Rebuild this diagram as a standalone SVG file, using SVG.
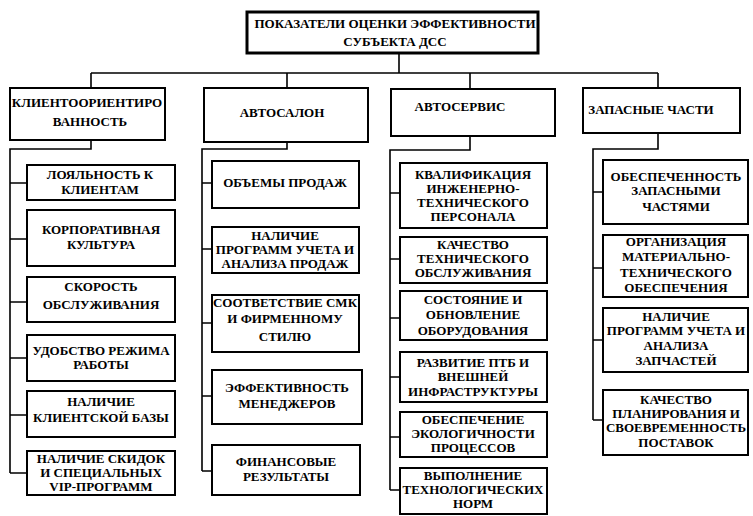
<svg xmlns="http://www.w3.org/2000/svg" width="753" height="516" viewBox="0 0 753 516">
<style>
.bg{fill:#fff}
.box{fill:#fff;stroke:#000;stroke-width:2}
.title{fill:#fff;stroke:#000;stroke-width:3}
.c{fill:none;stroke:#000;stroke-width:1.6}
text{font-weight:bold;font-size:13px;fill:#000;text-anchor:middle}
</style>
<rect class="bg" x="0" y="0" width="753" height="516"/>
<g id="connectors">
<path class="c" d="M399,53V73M91,73H658M91,73V88M287,73V88M470,73V89M658,73V88"/>
<path class="c" d="M91,140V149H10V473M10,183H27M10,239H27M10,302H27M10,358H27M10,415H27M10,473H27"/>
<path class="c" d="M287,142V149H202V471M202,183H212M202,249H212M202,323H212M202,396H212M202,471H212"/>
<path class="c" d="M470,136V150H390V490M390,193H400M390,259H400M390,318H400M390,377H400M390,437H400M390,490H400"/>
<path class="c" d="M658,133V149H593V420M593,192H603M593,268H603M593,340H603M593,420H603"/>
</g>
<g font-family="'Liberation Serif', 'DejaVu Serif', serif">
<g id="title"><rect class="title" x="247" y="12" width="291" height="41"/><text x="395" y="28">ПОКАЗАТЕЛИ ОЦЕНКИ ЭФФЕКТИВНОСТИ</text><text x="395" y="46">СУБЪЕКТА ДСС</text></g>
<g id="h1"><rect class="box" x="10" y="88" width="155" height="52"/><text x="87" y="107">КЛИЕНТООРИЕНТИРО</text><text x="90" y="126">ВАННОСТЬ</text></g>
<g id="h2"><rect class="box" x="204" y="88" width="164" height="54"/><text x="282" y="117">АВТОСАЛОН</text></g>
<g id="h3"><rect class="box" x="391" y="89" width="164" height="47"/><text x="460" y="111">АВТОСЕРВИС</text></g>
<g id="h4"><rect class="box" x="583" y="88" width="157" height="45"/><text x="651" y="114">ЗАПАСНЫЕ ЧАСТИ</text></g>
<g id="c1n1"><rect class="box" x="27" y="165" width="148" height="35"/><text x="100" y="179">ЛОЯЛЬНОСТЬ К</text><text x="100" y="194">КЛИЕНТАМ</text></g>
<g id="c1n2"><rect class="box" x="27" y="210" width="148" height="56"/><text x="101" y="234">КОРПОРАТИВНАЯ</text><text x="101" y="249">КУЛЬТУРА</text></g>
<g id="c1n3"><rect class="box" x="27" y="277" width="148" height="45"/><text x="101" y="291">СКОРОСТЬ</text><text x="101" y="309">ОБСЛУЖИВАНИЯ</text></g>
<g id="c1n4"><rect class="box" x="27" y="335" width="148" height="46"/><text x="101" y="355">УДОБСТВО РЕЖИМА</text><text x="101" y="369">РАБОТЫ</text></g>
<g id="c1n5"><rect class="box" x="27" y="391" width="148" height="46"/><text x="101" y="406">НАЛИЧИЕ</text><text x="101" y="422">КЛИЕНТСКОЙ БАЗЫ</text></g>
<g id="c1n6"><rect class="box" x="27" y="451" width="148" height="44"/><text x="101" y="463">НАЛИЧИЕ СКИДОК</text><text x="101" y="477">И СПЕЦИАЛЬНЫХ</text><text x="101" y="491">VIP-ПРОГРАММ</text></g>
<g id="c2n1"><rect class="box" x="212" y="161" width="147" height="47"/><text x="285" y="187">ОБЪЕМЫ ПРОДАЖ</text></g>
<g id="c2n2"><rect class="box" x="212" y="227" width="147" height="46"/><text x="285" y="240">НАЛИЧИЕ</text><text x="285" y="254">ПРОГРАММ УЧЕТА И</text><text x="285" y="268">АНАЛИЗА ПРОДАЖ</text></g>
<g id="c2n3"><rect class="box" x="212" y="295" width="147" height="57"/><text x="285" y="307">СООТВЕТСТВИЕ СМК</text><text x="285" y="323">И ФИРМЕННОМУ</text><text x="285" y="341">СТИЛЮ</text></g>
<g id="c2n4"><rect class="box" x="212" y="370" width="150" height="54"/><text x="287" y="392">ЭФФЕКТИВНОСТЬ</text><text x="287" y="408">МЕНЕДЖЕРОВ</text></g>
<g id="c2n5"><rect class="box" x="212" y="445" width="148" height="50"/><text x="286" y="466">ФИНАНСОВЫЕ</text><text x="286" y="481">РЕЗУЛЬТАТЫ</text></g>
<g id="c3n1"><rect class="box" x="400" y="163" width="147" height="65"/><text x="473" y="179">КВАЛИФИКАЦИЯ</text><text x="473" y="193">ИНЖЕНЕРНО-</text><text x="473" y="207">ТЕХНИЧЕСКОГО</text><text x="473" y="221">ПЕРСОНАЛА</text></g>
<g id="c3n2"><rect class="box" x="400" y="237" width="147" height="46"/><text x="473" y="249">КАЧЕСТВО</text><text x="473" y="263">ТЕХНИЧЕСКОГО</text><text x="473" y="277">ОБСЛУЖИВАНИЯ</text></g>
<g id="c3n3"><rect class="box" x="400" y="291" width="147" height="49"/><text x="473" y="304">СОСТОЯНИЕ И</text><text x="473" y="319">ОБНОВЛЕНИЕ</text><text x="473" y="335">ОБОРУДОВАНИЯ</text></g>
<g id="c3n4"><rect class="box" x="400" y="352" width="147" height="50"/><text x="473" y="367">РАЗВИТИЕ ПТБ И</text><text x="473" y="381">ВНЕШНЕЙ</text><text x="473" y="396">ИНФРАСТРУКТУРЫ</text></g>
<g id="c3n5"><rect class="box" x="400" y="412" width="147" height="45"/><text x="473" y="424">ОБЕСПЕЧЕНИЕ</text><text x="473" y="438">ЭКОЛОГИЧНОСТИ</text><text x="473" y="452">ПРОЦЕССОВ</text></g>
<g id="c3n6"><rect class="box" x="400" y="468" width="147" height="46"/><text x="473" y="480">ВЫПОЛНЕНИЕ</text><text x="473" y="494">ТЕХНОЛОГИЧЕСКИХ</text><text x="473" y="508">НОРМ</text></g>
<g id="c4n1"><rect class="box" x="603" y="160" width="145" height="64"/><text x="676" y="181">ОБЕСПЕЧЕННОСТЬ</text><text x="676" y="195">ЗАПАСНЫМИ</text><text x="676" y="211">ЧАСТЯМИ</text></g>
<g id="c4n2"><rect class="box" x="603" y="235" width="145" height="62"/><text x="676" y="246">ОРГАНИЗАЦИЯ</text><text x="676" y="261">МАТЕРИАЛЬНО-</text><text x="676" y="277">ТЕХНИЧЕСКОГО</text><text x="676" y="292">ОБЕСПЕЧЕНИЯ</text></g>
<g id="c4n3"><rect class="box" x="603" y="308" width="145" height="64"/><text x="676" y="321">НАЛИЧИЕ</text><text x="676" y="335">ПРОГРАММ УЧЕТА И</text><text x="676" y="350">АНАЛИЗА</text><text x="676" y="365">ЗАПЧАСТЕЙ</text></g>
<g id="c4n4"><rect class="box" x="603" y="390" width="145" height="65"/><text x="676" y="404">КАЧЕСТВО</text><text x="676" y="418">ПЛАНИРОВАНИЯ И</text><text x="676" y="432">СВОЕВРЕМЕННОСТЬ</text><text x="676" y="447">ПОСТАВОК</text></g>
</g>
</svg>
